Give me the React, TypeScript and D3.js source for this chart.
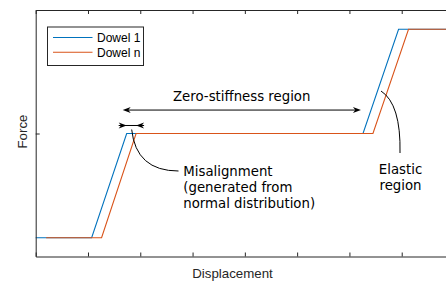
import React, { useEffect, useRef } from 'react';
import * as d3 from 'd3';

// displacement / force breakpoints (force levels: 0 low, 1 middle, 2 top)
const dowel1X = [0, 1.07, 1.74, 6.26, 6.94, 8];
const dowel1Y = [0, 0, 1, 1, 2, 2];
const dowelNX = [0.2, 1.26, 1.92, 6.45, 7.13, 8];
const dowelNY = [0, 0, 1, 1, 2, 2];
const seriesNames = ['Dowel 1', 'Dowel n'];
const xTicks = [0, 1, 2, 3, 4, 5, 6, 7, 8];
const yTicks = [1];

const BLUE = '#0072BD';
const ORANGE = '#D95319';
const AXIS = '#262626';

export default function App() {
    const svgRef = useRef<SVGSVGElement>(null);

    useEffect(() => {
        const svg = d3.select(svgRef.current);
        svg.selectAll('*').remove();

        const W = 446;
        const H = 282;
        const left = 35.7;
        const top = 10;
        const bottom = 256.5;
        const right = 454;

        const x = d3.scaleLinear().domain([0, 8]).range([left, right]);
        const y = d3.scaleLinear().domain([-0.18, 2.185]).range([bottom, top]);

        svg.attr('width', W).attr('height', H);

        const toPts = (xs: number[], ys: number[]) => xs.map((v, i) => [v, ys[i]] as [number, number]);
        const line = d3.line<[number, number]>().x((d) => x(d[0])).y((d) => y(d[1]));

        const plot = svg.append('g');
        plot.append('path')
            .attr('d', line(toPts(dowel1X, dowel1Y)))
            .attr('fill', 'none')
            .attr('stroke', BLUE)
            .attr('stroke-width', 1.1);
        plot.append('path')
            .attr('d', line(toPts(dowelNX, dowelNY)))
            .attr('fill', 'none')
            .attr('stroke', ORANGE)
            .attr('stroke-width', 1.1);

        // axes box
        const styleAxis = (g: any) => {
            g.selectAll('path').attr('stroke', AXIS).attr('stroke-width', 1);
            g.selectAll('line').attr('stroke', AXIS).attr('stroke-width', 1);
            g.selectAll('text').remove();
        };
        svg.append('g')
            .attr('transform', `translate(0,${bottom})`)
            .call(d3.axisBottom(x).tickValues(xTicks).tickSize(-4).tickSizeOuter(0).tickFormat(() => ''))
            .call(styleAxis);
        svg.append('g')
            .attr('transform', `translate(0,${top})`)
            .call(d3.axisTop(x).tickValues(xTicks).tickSize(-4).tickSizeOuter(0).tickFormat(() => ''))
            .call(styleAxis);
        svg.append('g')
            .attr('transform', `translate(${left},0)`)
            .call(d3.axisLeft(y).tickValues(yTicks).tickSize(-4).tickSizeOuter(0).tickFormat(() => ''))
            .call(styleAxis);

        // axis labels
        svg.append('text')
            .attr('x', 232.5)
            .attr('y', 277.5)
            .attr('text-anchor', 'middle')
            .style('font-family', 'Liberation Sans, Arial, sans-serif')
            .style('font-size', '13.3px')
            .style('fill', AXIS)
            .text('Displacement');
        svg.append('text')
            .attr('transform', `translate(26.5,${y(1) - 2}) rotate(-90)`)
            .attr('text-anchor', 'middle')
            .style('font-family', 'Liberation Sans, Arial, sans-serif')
            .style('font-size', '13.3px')
            .style('fill', AXIS)
            .text('Force');

        // legend
        const lg = svg.append('g');
        lg.append('rect')
            .attr('x', 47.5).attr('y', 27).attr('width', 96).attr('height', 38.5)
            .attr('fill', '#fff').attr('stroke', AXIS).attr('stroke-width', 1);
        [BLUE, ORANGE].forEach((c, i) => {
            const ly = 37.5 + i * 14.8;
            lg.append('line').attr('x1', 53).attr('x2', 92.5).attr('y1', ly).attr('y2', ly)
                .attr('stroke', c).attr('stroke-width', 1.1);
            lg.append('text')
                .attr('x', 97).attr('y', ly + 4.5)
                .style('font-family', 'Liberation Sans, Arial, sans-serif')
                .style('font-size', '12px')
                .style('fill', '#000')
                .text(seriesNames[i]);
        });

        // annotations
        const ann = svg.append('g').style('font-family', 'DejaVu Sans, Verdana, sans-serif').style('font-size', '13.3px');
        const head = (tipX: number, tipY: number, dir: number, len = 8, hw = 3) =>
            `M${tipX},${tipY} L${tipX - dir * len},${tipY - hw} L${tipX - dir * len * 0.7},${tipY} L${tipX - dir * len},${tipY + hw} Z`;

        // zero-stiffness double arrow
        const zy = y(1.225);
        const zx1 = x(1.664);
        const zx2 = x(6.22);
        ann.append('line').attr('x1', zx1 + 3).attr('x2', zx2 - 3).attr('y1', zy).attr('y2', zy)
            .attr('stroke', '#000').attr('stroke-width', 1);
        ann.append('path').attr('d', head(zx1, zy, -1)).attr('fill', '#000');
        ann.append('path').attr('d', head(zx2, zy, 1)).attr('fill', '#000');
        ann.append('text').attr('x', 241.7).attr('y', 100.5).attr('text-anchor', 'middle').text('Zero-stiffness region');

        // misalignment marker
        const my = y(1.077);
        const ma = x(dowel1X[2]);
        const mb = x(dowelNX[2]);
        ann.append('line').attr('x1', ma - 8).attr('x2', mb + 8).attr('y1', my).attr('y2', my)
            .attr('stroke', '#000').attr('stroke-width', 1);
        ann.append('path').attr('d', head(ma, my, 1)).attr('fill', '#000');
        ann.append('path').attr('d', head(mb, my, -1)).attr('fill', '#000');
        ann.append('path')
            .attr('d', `M${ma + 5},129.5 Q136,171 178.5,171`)
            .attr('fill', 'none').attr('stroke', '#000').attr('stroke-width', 1);
        ['Misalignment', '(generated from', 'normal distribution)'].forEach((t, i) => {
            ann.append('text').attr('x', 183.3).attr('y', 176 + i * 16).text(t);
        });

        // elastic region
        ann.append('path')
            .attr('d', 'M381,91 Q401,104 400,153')
            .attr('fill', 'none').attr('stroke', '#000').attr('stroke-width', 1);
        ['Elastic', 'region'].forEach((t, i) => {
            ann.append('text').attr('x', 400.5).attr('y', 174 + i * 16).attr('text-anchor', 'middle').text(t);
        });
    }, []);

    return (
        <svg ref={svgRef} style={{ position: 'absolute', left: 0, top: 0, background: '#fff' }} />
    );
}
